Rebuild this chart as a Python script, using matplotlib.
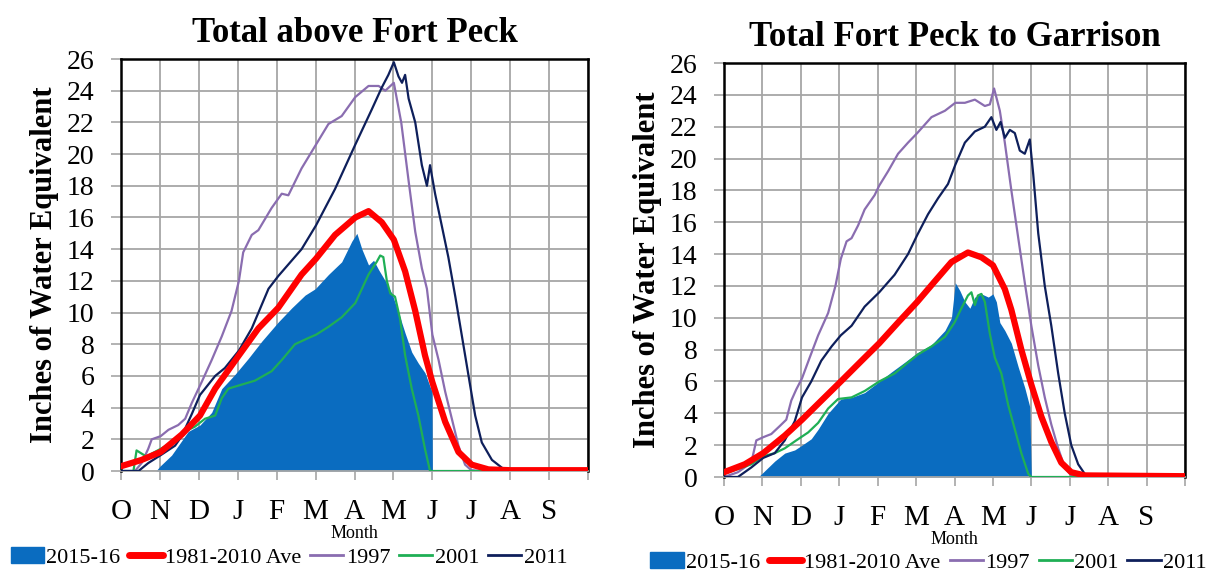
import matplotlib
matplotlib.use("Agg")
import matplotlib.pyplot as plt
from matplotlib.patches import Patch
from matplotlib.lines import Line2D

# ── Data (x in months since 1 Oct, y in inches SWE) ──

month_labels = ["O", "N", "D", "J", "F", "M", "A", "M", "J", "J", "A", "S"]

# Total above Fort Peck
fp_cur_m = [0.9, 1.0, 1.3, 1.73, 2.03, 2.33, 2.59, 2.93, 3.27, 3.62, 4.04, 4.39, 4.73,
            4.99, 5.33, 5.67, 5.93, 6.06, 6.19, 6.36, 6.49, 6.62, 6.79, 6.96, 7.13, 7.3,
            7.47, 7.64, 7.81, 7.99, 8.0]
fp_cur_v = [0, 0.3, 1.0, 2.5, 2.9, 3.7, 5.2, 6.1, 7.1, 8.2, 9.4, 10.3, 11.1,
            11.5, 12.4, 13.2, 14.5, 15.0, 14.0, 13.0, 13.3, 12.7, 12.0, 11.2, 10.0, 8.7,
            7.5, 6.8, 6.2, 5.0, 0]

fp_avg_m = [0, 0.53, 1.02, 1.56, 2.03, 2.42, 3.03, 3.53, 4.04, 4.64, 5.01, 5.5, 6.02,
            6.36, 6.7, 7.01, 7.3, 7.56, 7.81, 8.0, 8.33, 8.67, 9.01, 9.44, 10.0, 12.0]
fp_avg_v = [0.3, 0.7, 1.2, 2.3, 3.5, 5.2, 7.3, 9.0, 10.3, 12.4, 13.4, 14.9, 16.0,
            16.4, 15.7, 14.6, 12.6, 10.1, 7.3, 5.6, 3.1, 1.2, 0.4, 0.1, 0.05, 0.05]

fp_1997_m = [0, 0.36, 0.53, 0.7, 0.79, 1.02, 1.22, 1.47, 1.65, 1.82, 2.07, 2.33, 2.59,
             2.84, 3.03, 3.14, 3.36, 3.53, 3.87, 4.13, 4.3, 4.64, 5.01, 5.33, 5.67, 6.02,
             6.36, 6.62, 6.79, 7.01, 7.2, 7.39, 7.56, 7.73, 7.86, 8.0, 8.16, 8.33, 8.5,
             8.67, 8.84, 9.0, 9.3]
fp_1997_v = [0, 0, 0.5, 1.4, 2.0, 2.2, 2.6, 2.9, 3.3, 4.3, 5.6, 7.0, 8.5,
             10.1, 12.0, 13.8, 14.9, 15.2, 16.6, 17.5, 17.4, 19.1, 20.6, 21.9, 22.4, 23.6,
             24.3, 24.3, 24.0, 24.5, 22.0, 18.3, 15.1, 12.8, 11.5, 8.6, 7.0, 5.0, 3.3,
             1.6, 0.4, 0.05, 0]

fp_2001_m = [0, 0.32, 0.4, 0.53, 0.66, 0.79, 1.02, 1.3, 1.65, 1.9, 2.16, 2.42, 2.59,
             2.76, 3.03, 3.44, 3.87, 4.13, 4.47, 4.82, 5.01, 5.33, 5.67, 6.02, 6.19, 6.36,
             6.49, 6.57, 6.66, 6.74, 6.83, 6.92, 7.04, 7.17, 7.3, 7.47, 7.64, 7.81, 7.94,
             10.0]
fp_2001_v = [0, 0, 1.3, 1.1, 0.9, 1.1, 1.4, 1.8, 2.5, 2.8, 3.3, 3.5, 4.6,
             5.2, 5.4, 5.7, 6.3, 7.0, 8.0, 8.4, 8.6, 9.1, 9.7, 10.6, 11.5, 12.4,
             12.9, 13.2, 13.6, 13.5, 12.0, 11.2, 11.0, 9.6, 7.3, 5.2, 3.5, 1.4, 0,
             0]

fp_2011_m = [0, 0.45, 0.7, 1.02, 1.39, 1.56, 1.82, 2.03, 2.42, 2.67, 3.03, 3.36, 3.79,
             4.04, 4.64, 5.01, 5.5, 6.02, 6.44, 6.7, 6.87, 7.01, 7.13, 7.22, 7.3, 7.39,
             7.56, 7.73, 7.86, 7.94, 8.07, 8.24, 8.41, 8.59, 8.76, 8.93, 9.1, 9.27, 9.53,
             9.79, 10.0, 12.0]
fp_2011_v = [0, 0, 0.5, 1.0, 1.6, 2.2, 3.6, 4.8, 6.0, 6.5, 7.6, 9.0, 11.5,
             12.3, 14.0, 15.5, 17.8, 20.6, 22.8, 24.2, 25.0, 25.8, 24.9, 24.5, 25.0, 23.5,
             22.0, 19.3, 18.0, 19.3, 17.5, 15.5, 13.5, 11.0, 8.5, 6.0, 3.5, 1.8, 0.7,
             0.2, 0, 0]

# Total Fort Peck to Garrison
gr_cur_m = [0.89, 1.02, 1.32, 1.58, 1.84, 2.03, 2.27, 2.45, 2.71, 3.04, 3.32, 3.66,
            4.04, 4.36, 4.7, 5.03, 5.4, 5.75, 5.92, 6.02, 6.14, 6.27, 6.4, 6.53, 6.7,
            6.88, 7.0, 7.09, 7.18, 7.31, 7.48, 7.66, 7.83, 7.96, 8.0]
gr_cur_v = [0, 0.3, 1.0, 1.5, 1.7, 2.0, 2.4, 3.0, 4.0, 4.9, 5.0, 5.3,
            6.0, 6.6, 7.2, 7.8, 8.3, 9.2, 10.0, 12.2, 11.7, 11.0, 10.6, 11.3, 11.5,
            11.3, 11.5, 11.0, 9.7, 9.2, 8.4, 6.9, 5.6, 4.4, 0]

gr_avg_m = [0, 0.54, 1.02, 1.58, 2.03, 2.45, 3.04, 3.58, 4.04, 4.53, 5.03, 5.49, 5.92,
            6.35, 6.7, 7.0, 7.31, 7.48, 7.74, 8.0, 8.26, 8.52, 8.78, 9.04, 9.39, 12.0]
gr_avg_v = [0.3, 0.8, 1.5, 2.6, 3.6, 4.6, 6.0, 7.3, 8.4, 9.7, 11.0, 12.3, 13.5,
            14.1, 13.8, 13.3, 11.8, 10.5, 8.0, 5.8, 3.8, 2.2, 0.9, 0.3, 0.1, 0.05]

gr_1997_m = [0, 0.36, 0.71, 0.84, 1.02, 1.23, 1.45, 1.62, 1.75, 1.88, 2.03, 2.23, 2.45,
             2.71, 2.9, 3.04, 3.19, 3.32, 3.49, 3.66, 3.92, 4.04, 4.27, 4.53, 4.79, 5.03,
             5.4, 5.75, 6.02, 6.27, 6.53, 6.79, 6.92, 7.03, 7.18, 7.31, 7.48, 7.66, 7.83,
             8.0, 8.18, 8.35, 8.52, 8.7, 8.87, 9.04, 9.3]
gr_1997_v = [0, 0.3, 0.9, 2.3, 2.5, 2.7, 3.2, 3.6, 4.8, 5.5, 6.2, 7.5, 8.9,
             10.3, 12.0, 13.7, 14.8, 15.0, 15.8, 16.8, 17.7, 18.3, 19.2, 20.3, 21.0, 21.6,
             22.6, 23.0, 23.5, 23.5, 23.7, 23.3, 23.4, 24.4, 23.0, 21.0, 18.0, 15.0, 12.2,
             9.5, 7.0, 5.0, 3.3, 1.8, 0.6, 0.1, 0]

gr_2001_m = [0, 0.36, 0.71, 1.02, 1.32, 1.58, 1.88, 2.19, 2.45, 2.71, 2.97, 3.32, 3.66,
             4.04, 4.44, 4.79, 5.05, 5.4, 5.75, 6.0, 6.18, 6.35, 6.44, 6.53, 6.61, 6.7,
             6.79, 6.92, 7.05, 7.22, 7.4, 7.57, 7.74, 7.92, 8.0, 9.4]
gr_2001_v = [0.2, 0.5, 0.8, 1.3, 1.5, 1.8, 2.3, 2.8, 3.4, 4.3, 4.9, 5.0, 5.4,
             6.0, 6.5, 7.2, 7.7, 8.2, 8.8, 9.7, 10.6, 11.4, 11.6, 10.8, 11.4, 11.5,
             11.0, 9.0, 7.5, 6.5, 4.5, 3.0, 1.5, 0.2, 0, 0]

gr_2011_m = [0, 0.36, 0.71, 1.02, 1.32, 1.58, 1.84, 2.03, 2.27, 2.53, 2.8, 3.04, 3.32,
             3.66, 4.04, 4.44, 4.79, 5.03, 5.31, 5.57, 5.83, 6.02, 6.27, 6.53, 6.79, 6.96,
             7.09, 7.2, 7.31, 7.44, 7.57, 7.7, 7.83, 7.96, 8.05, 8.18, 8.35, 8.52, 8.7,
             8.87, 9.04, 9.22, 9.39, 9.65, 12.0]
gr_2011_v = [0, 0, 0.6, 1.2, 1.5, 2.3, 3.5, 5.0, 6.0, 7.3, 8.2, 8.9, 9.5,
             10.7, 11.6, 12.7, 14.0, 15.2, 16.5, 17.5, 18.4, 19.6, 21.0, 21.7, 22.0, 22.6,
             21.8, 22.3, 21.3, 21.8, 21.6, 20.5, 20.3, 21.2, 19.0, 15.3, 12.0, 9.5, 6.5,
             4.0, 2.0, 0.8, 0.2, 0, 0]

# ── Styling ─────────────────────────────────────────────────────────────────
BLUE = "#0A6CC0"
RED = "#FF0000"
PURPLE = "#8A6DB0"
GREEN = "#1FAF55"
NAVY = "#0E1F5B"
GRID = "#A6A6A6"

plt.rcParams["font.family"] = ["Liberation Serif", "DejaVu Serif"]

fig = plt.figure(figsize=(12.11, 5.77), dpi=100, facecolor="white")

panels = [
    ("Total above Fort Peck", [0.0999, 0.1837, 0.3857, 0.7140],
     (fp_cur_m, fp_cur_v), (fp_avg_m, fp_avg_v), (fp_1997_m, fp_1997_v),
     (fp_2001_m, fp_2001_v), (fp_2011_m, fp_2011_v), (0.009, 0.016)),
    ("Total Fort Peck to Garrison", [0.5979, 0.1733, 0.3806, 0.7175],
     (gr_cur_m, gr_cur_v), (gr_avg_m, gr_avg_v), (gr_1997_m, gr_1997_v),
     (gr_2001_m, gr_2001_v), (gr_2011_m, gr_2011_v), (0.537, 0.007)),
]

for title, rect, cur, avg, y97, y01, y11, leg_xy in panels:
    ax = fig.add_axes(rect)

    ax.fill_between(cur[0], cur[1], 0, color=BLUE, linewidth=0, zorder=2)
    ax.plot(y97[0], y97[1], color=PURPLE, lw=1.6, zorder=3)
    ax.plot(y01[0], y01[1], color=GREEN, lw=1.6, zorder=3)
    ax.plot(y11[0], y11[1], color=NAVY, lw=1.6, zorder=4)
    ax.plot(avg[0], avg[1], color=RED, lw=4.5, solid_capstyle="round", zorder=5)

    ax.set_xlim(0, 12)
    ax.set_ylim(0, 26)
    ax.set_xticks(range(13))
    ax.set_xticklabels(month_labels + [""], fontsize=21)
    ax.set_yticks(range(0, 27, 2))
    ax.tick_params(axis="y", labelsize=20, length=7, color=GRID, width=1.2, pad=12)
    ax.tick_params(axis="x", length=6.5, color=GRID, width=1.2, pad=14)
    ax.grid(True, color=GRID, lw=1.3, zorder=1)
    ax.set_axisbelow(True)

    for side in ("left", "right", "top"):
        ax.spines[side].set_color("black")
        ax.spines[side].set_linewidth(1.8)
    ax.spines["bottom"].set_color(GRID)
    ax.spines["bottom"].set_linewidth(1.3)

    ax.set_title(title, fontsize=25, fontweight="bold", pad=12)
    ax.set_ylabel("Inches of Water Equivalent", fontsize=22, fontweight="bold", labelpad=6)
    ax.set_xlabel("Month", fontsize=13, labelpad=0)

    handles = [
        Patch(facecolor=BLUE, edgecolor=BLUE),
        Line2D([], [], color=RED, lw=5, solid_capstyle="round"),
        Line2D([], [], color=PURPLE, lw=2),
        Line2D([], [], color=GREEN, lw=2),
        Line2D([], [], color=NAVY, lw=2),
    ]
    labels = ["2015-16", "1981-2010 Ave", "1997", "2001", "2011"]
    fig.legend(handles, labels, loc="lower left", bbox_to_anchor=leg_xy, ncol=5,
               frameon=False, fontsize=16, handlelength=1.5, handleheight=0.75,
               handletextpad=0.1, columnspacing=0.4, borderpad=0, borderaxespad=0)

fig.savefig("out.png", dpi=100, facecolor="white")
